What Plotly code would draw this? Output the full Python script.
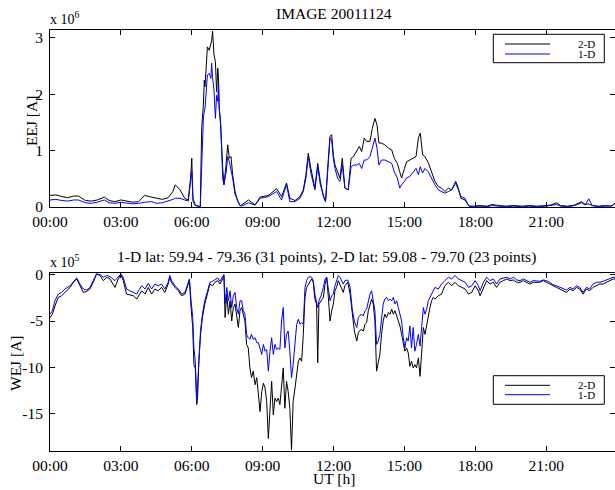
import plotly.graph_objects as go

# ---------------- data ----------------
# Upper panel: eastward electrojet, units of 1e6 A, time in UT hours
t_eej = [0.00, 0.25, 0.50, 0.75, 1.00, 1.20, 1.50, 1.75, 2.00, 2.30, 2.50, 2.75, 3.00, 3.20, 3.50, 3.75,
         4.00, 4.30, 4.50, 4.75, 5.00, 5.20, 5.30, 5.50, 5.70, 5.85, 5.95, 6.00, 6.05, 6.15, 6.36, 6.42,
         6.49, 6.53, 6.56, 6.66, 6.74, 6.81, 6.84, 6.88, 6.94, 7.00, 7.05, 7.10, 7.13, 7.16, 7.22, 7.31,
         7.36, 7.45, 7.52, 7.59, 7.66, 7.73, 7.83, 7.94, 8.04, 8.11, 8.40, 8.68, 8.89, 9.24, 9.59, 9.80,
         10.01, 10.15, 10.37, 10.58, 10.72, 10.83, 10.93, 11.04, 11.14, 11.21, 11.33, 11.44, 11.57, 11.66,
         11.78, 11.85, 11.92, 11.99, 12.06, 12.17, 12.27, 12.37, 12.48, 12.62, 12.74, 12.84, 12.98, 13.09,
         13.19, 13.30, 13.40, 13.54, 13.64, 13.75, 13.84, 13.92, 14.03, 14.17, 14.32, 14.46, 14.57, 14.70,
         14.80, 14.88, 15.00, 15.09, 15.23, 15.38, 15.49, 15.59, 15.67, 15.77, 15.87, 16.01, 16.15, 16.29,
         16.43, 16.57, 16.71, 16.86, 17.00, 17.17, 17.28, 17.39, 17.56, 17.73, 17.91, 18.20, 18.50, 18.70,
         19.00, 19.30, 19.60, 20.00, 20.30, 20.60, 21.00, 21.20, 21.44, 21.60, 21.90, 22.20, 22.50, 22.65,
         22.80, 22.95, 23.20, 23.50, 23.75, 23.90, 24.00]
eej_2d = [0.20, 0.21, 0.18, 0.16, 0.19, 0.19, 0.11, 0.10, 0.12, 0.17, 0.11, 0.09, 0.12, 0.10, 0.08, 0.09,
          0.20, 0.17, 0.15, 0.13, 0.16, 0.27, 0.39, 0.30, 0.15, 0.12, 0.51, 0.86, 0.10, 0.02, 0.00, 1.40,
          1.81, 2.25, 2.13, 2.84, 2.78, 2.90, 2.95, 3.12, 2.70, 2.58, 2.04, 2.46, 2.30, 1.75, 1.45, 0.68,
          0.39, 0.74, 1.10, 0.86, 0.89, 0.57, 0.27, 0.10, 0.02, 0.03, 0.12, 0.03, 0.17, 0.20, 0.32, 0.18,
          0.42, 0.15, 0.11, 0.18, 0.30, 0.57, 0.95, 0.68, 0.45, 0.33, 0.77, 0.45, 0.18, 0.09,
          0.86, 1.25, 1.28, 0.92, 0.74, 0.62, 0.51, 0.86, 0.33, 0.30, 0.86, 0.89, 0.98, 1.07,
          0.98, 1.22, 1.16, 1.16, 1.39, 1.57, 1.45, 1.13, 1.13, 1.10, 1.04, 1.01, 0.86, 0.77,
          0.62, 0.51, 0.68, 0.80, 0.83, 0.86, 0.89, 1.22, 1.31, 0.92, 0.89, 0.78, 0.60, 0.45,
          0.36, 0.33, 0.27, 0.33, 0.30, 0.45, 0.33, 0.15, 0.12, 0.01, 0.01, 0.02, 0.01, 0.04,
          0.02, 0.01, 0.02, 0.01, 0.02, 0.01, 0.02, 0.03, 0.07, 0.02, 0.01, 0.03, 0.09, 0.04,
          0.05, 0.02, 0.01, 0.02, 0.01, 0.06, 0.03]
eej_1d = [0.12, 0.13, 0.11, 0.10, 0.12, 0.12, 0.07, 0.06, 0.08, 0.12, 0.07, 0.06, 0.08, 0.07, 0.05, 0.06,
          0.08, 0.09, 0.06, 0.07, 0.10, 0.13, 0.15, 0.15, 0.12, 0.10, 0.45, 0.63, 0.15, 0.03, 0.00, 0.86,
          1.57, 1.70, 1.75, 2.34, 2.37, 2.28, 2.55, 2.30, 2.07, 1.57, 1.98, 1.87, 2.20, 1.75, 1.51, 0.50,
          0.39, 0.60, 0.89, 0.80, 0.68, 0.51, 0.22, 0.10, 0.02, 0.01, 0.07, 0.03, 0.15, 0.18, 0.27, 0.12,
          0.39, 0.09, 0.09, 0.15, 0.27, 0.51, 0.89, 0.60, 0.39, 0.30, 0.71, 0.39, 0.20, 0.09,
          0.80, 1.22, 1.19, 0.86, 0.68, 0.51, 0.45, 0.74, 0.33, 0.30, 0.71, 0.74, 0.74, 0.77,
          0.68, 0.83, 0.83, 0.89, 1.04, 1.22, 1.04, 0.74, 0.83, 0.83, 0.80, 0.77, 0.62, 0.51,
          0.33, 0.39, 0.45, 0.51, 0.54, 0.62, 0.68, 0.57, 0.71, 0.60, 0.68, 0.62, 0.50, 0.39,
          0.30, 0.27, 0.24, 0.27, 0.30, 0.42, 0.30, 0.18, 0.15, 0.01, 0.00, 0.01, 0.00, 0.02,
          0.01, 0.00, 0.01, 0.00, 0.01, 0.00, 0.01, 0.02, 0.04, 0.01, 0.00, 0.02, 0.07, 0.03,
          0.14, 0.02, 0.00, 0.01, 0.01, 0.05, 0.02]

# Lower panel: westward electrojet, units of 1e5 A, time in UT hours
t_wej = [0.00, 0.10, 0.21, 0.35, 0.49, 0.63, 0.85, 0.99, 1.13, 1.27, 1.41, 1.55, 1.69, 1.83, 1.97, 2.12,
         2.26, 2.40, 2.54, 2.75, 2.89, 3.00, 3.10, 3.24, 3.38, 3.53, 3.67, 3.75, 3.88, 4.02, 4.16, 4.30,
         4.44, 4.58, 4.72, 4.86, 5.00, 5.07, 5.14, 5.29, 5.43, 5.57, 5.71, 5.83, 5.90, 5.97, 6.04, 6.09,
         6.15, 6.21, 6.25, 6.30, 6.37, 6.45, 6.55, 6.66, 6.77, 6.88, 6.98, 7.10, 7.19, 7.31, 7.36, 7.41,
         7.48, 7.55, 7.62, 7.69, 7.76, 7.83, 7.90, 7.97, 8.04, 8.11, 8.18, 8.25, 8.32, 8.39, 8.46, 8.53,
         8.60, 8.68, 8.75, 8.82, 8.89, 8.96, 9.03, 9.10, 9.17, 9.24, 9.31, 9.38, 9.45, 9.52, 9.59, 9.66,
         9.73, 9.80, 9.87, 9.94, 10.01, 10.08, 10.15, 10.22, 10.29, 10.37, 10.44, 10.51, 10.58, 10.65,
         10.72, 10.79, 10.86, 10.93, 11.00, 11.07, 11.14, 11.21, 11.28, 11.33, 11.38, 11.47, 11.57, 11.64,
         11.71, 11.78, 11.85, 11.92, 11.99, 12.06, 12.13, 12.20, 12.27, 12.34, 12.41, 12.48, 12.60, 12.70,
         12.79, 12.88, 12.98, 13.05, 13.16, 13.26, 13.33, 13.40, 13.47, 13.54, 13.61, 13.68, 13.75, 13.82,
         13.89, 13.96, 14.03, 14.10, 14.17, 14.24, 14.32, 14.39, 14.46, 14.53, 14.60, 14.67, 14.74, 14.81,
         14.88, 14.95, 15.02, 15.09, 15.16, 15.23, 15.30, 15.37, 15.44, 15.51, 15.59, 15.66, 15.73, 15.80,
         15.87, 15.94, 16.01, 16.08, 16.15, 16.22, 16.29, 16.43, 16.57, 16.71, 16.86, 17.00, 17.14, 17.28,
         17.43, 17.57, 17.71, 17.85, 17.99, 18.13, 18.20, 18.34, 18.48, 18.62, 18.76, 18.90, 19.04, 19.19,
         19.33, 19.47, 19.61, 19.75, 19.89, 20.03, 20.17, 20.31, 20.45, 20.59, 20.73, 20.87, 21.01, 21.15,
         21.29, 21.43, 21.57, 21.71, 21.86, 22.00, 22.14, 22.28, 22.42, 22.56, 22.70, 22.84, 22.98, 23.12,
         23.27, 23.41, 23.55, 23.69, 23.83, 24.00]
wej_2d = [-4.63, -4.27, -3.37, -2.46, -2.28, -1.92, -1.38, -0.83, -0.47, -1.20, -1.92, -1.81, -1.56, -0.83, 0.07, -0.10,
          -0.65, -0.29, -0.47, -1.38, -0.47, 0.00, -0.65, -2.10, -2.17, -2.28, -2.64, -2.28, -1.74, -2.10, -1.38, -2.10,
          -1.56, -1.74, -1.38, -1.92, -1.02, -0.29, -0.83, -1.38, -1.74, -2.28, -2.10, -1.20, -0.58, -3.55, -5.70, -9.70,
          -10.07, -14.00, -12.95, -9.33, -6.44, -4.63, -3.18, -2.10, -1.02, -1.20, -0.83, -0.65, -1.02, -0.47, -0.10, -4.63,
          -2.10, -4.27, -2.82, -5.00, -3.55, -3.18, -4.81, -5.70, -3.90, -3.55, -4.27, -5.00, -7.52, -7.90, -10.05, -11.10,
          -10.40, -11.86, -11.10, -12.95, -14.75, -12.60, -11.70, -12.20, -13.67, -17.65, -14.40, -11.50, -15.10, -13.30, -13.67, -13.30,
          -14.00, -12.20, -10.05, -14.40, -11.50, -12.60, -14.40, -18.90, -13.67, -12.20, -10.80, -9.33, -8.97, -9.33,
          -6.44, -2.46, -1.38, -1.02, -0.65, -0.47, -0.83, -2.64, -3.18, -9.50, -3.18, -2.82, -2.46, -1.02,
          -0.29, -2.46, -5.00, -3.90, -3.18, -1.74, -1.38, -0.65, -1.02, -1.56, -1.92, -1.20, -0.83, -2.10,
          -4.27, -6.08, -7.16, -6.26, -5.90, -6.08, -5.35, -5.17, -3.90, -3.18, -2.64, -3.18, -5.00, -10.40,
          -9.33, -8.60, -6.44, -5.00, -4.27, -4.63, -4.09, -4.27, -3.73, -4.27, -3.90, -4.45, -5.00, -5.53,
          -6.44, -7.52, -8.25, -7.90, -8.43, -9.87, -9.33, -10.05, -9.70, -10.05, -8.97, -10.96, -7.90, -5.70,
          -6.44, -5.35, -4.27, -3.55, -2.82, -2.46, -2.64, -2.28, -2.10, -1.20, -0.83, -1.20, -0.83, -1.20,
          -1.38, -1.56, -2.10, -1.92, -1.20, -1.74, -2.28, -1.38, -0.65, -1.02, -0.83, -1.38, -0.83, -0.65,
          -0.47, -0.65, -0.58, -0.83, -0.83, -0.65, -0.83, -1.02, -0.83, -0.83, -0.83, -0.65, -0.83, -1.02,
          -1.20, -1.38, -1.56, -1.74, -1.92, -1.56, -1.74, -1.38, -1.56, -2.10, -1.56, -1.74, -1.38, -1.20,
          -1.02, -1.02, -0.83, -0.65, -0.47, -0.50]
wej_1d = [-4.27, -3.90, -2.82, -2.10, -1.92, -1.56, -1.20, -0.83, -0.36, -1.02, -1.56, -1.67, -1.38, -0.65, 0.07, 0.00,
          -0.29, -0.10, -0.22, -0.65, -0.29, 0.07, -0.29, -1.56, -1.74, -1.92, -2.10, -1.70, -1.20, -1.56, -0.94, -1.56,
          -1.02, -1.20, -1.02, -1.56, -0.83, -0.10, -0.65, -1.20, -1.56, -2.10, -1.92, -1.02, -0.47, -2.82, -4.63, -7.90,
          -9.33, -13.80, -12.20, -9.33, -6.08, -4.27, -2.82, -1.74, -0.83, -0.72, -0.58, -0.36, -0.72, -0.29, 0.00, -3.18,
          -1.38, -2.82, -1.74, -3.55, -2.28, -1.92, -3.55, -4.27, -2.82, -2.82, -3.90, -4.27, -6.44, -6.80, -6.98, -6.44,
          -6.98, -6.80, -7.34, -7.34, -7.90, -8.60, -7.52, -8.25, -8.07, -10.40, -8.25, -6.80, -8.60, -7.52, -8.07, -7.90,
          -8.07, -5.00, -3.55, -7.90, -6.44, -6.08, -8.25, -11.10, -9.70, -7.16, -5.35, -4.81, -5.35, -5.17,
          -5.35, -1.38, -0.65, -0.29, -0.22, -0.29, -0.65, -2.10, -2.82, -3.55, -2.82, -2.28, -1.38, -0.47,
          -0.29, -1.92, -2.82, -2.28, -2.10, -1.20, -0.65, -0.10, -0.29, -0.65, -1.02, -0.65, -0.58, -1.38,
          -3.73, -5.00, -5.70, -4.63, -4.27, -4.45, -3.90, -3.73, -2.82, -2.10, -1.74, -2.64, -3.90, -7.52,
          -7.16, -6.44, -4.63, -3.18, -2.64, -2.46, -2.82, -2.64, -2.82, -2.46, -3.18, -2.82, -3.55, -4.27,
          -5.00, -6.80, -7.90, -6.80, -7.16, -5.53, -7.90, -5.70, -8.25, -7.52, -6.44, -7.70, -5.35, -3.55,
          -4.27, -3.73, -2.82, -2.46, -1.92, -1.74, -1.38, -1.56, -1.02, -0.65, -0.29, -0.47, -0.10, -0.47,
          -0.65, -0.83, -1.38, -1.20, -0.65, -1.20, -1.74, -0.83, -0.29, -0.65, -0.47, -1.02, -0.47, -0.36,
          -0.29, -0.47, -0.29, -0.58, -0.65, -0.47, -0.65, -0.83, -0.65, -0.65, -0.72, -0.58, -0.65, -0.83,
          -1.10, -1.20, -1.38, -1.56, -1.67, -1.38, -1.56, -1.20, -1.38, -1.92, -1.38, -1.56, -1.02, -0.83,
          -0.83, -0.72, -0.58, -0.47, -0.29, -0.30]

time_ticks = [0, 3, 6, 9, 12, 15, 18, 21]
time_labels = ["00:00", "03:00", "06:00", "09:00", "12:00", "15:00", "18:00", "21:00"]
eej_ticks = [0, 1, 2, 3]
eej_labels = ["0", "1", "2", "3"]
wej_ticks = [0, -5, -10, -15]
wej_labels = ["0", "-5", "-10", "-15"]
series_names = ["2-D", "1-D"]
series_colors = ["#000000", "#0000ff"]

title_text = "IMAGE 20011124"
subtitle_text = "1-D lat: 59.94 - 79.36 (31 points), 2-D lat: 59.08 - 79.70 (23 points)"

# ---------------- layout geometry ----------------
W, H = 615, 490
L, R, T, B = 50, 0, 30, 39
PW, PH = W - L - R, H - T - B
PX_PER_HOUR = 23.63
FONT = "Liberation Serif"
FS = 15.5


def px(x):
    return (x - L) / PW


def py(y):
    return 1 - (y - T) / PH


fig = go.Figure()
for name, color, y in zip(series_names, series_colors, [eej_2d, eej_1d]):
    fig.add_trace(go.Scatter(x=t_eej, y=y, mode="lines", name=name,
                             line=dict(color=color, width=1), xaxis="x", yaxis="y",
                             showlegend=False))
for name, color, y in zip(series_names, series_colors, [wej_2d, wej_1d]):
    fig.add_trace(go.Scatter(x=t_wej, y=y, mode="lines", name=name,
                             line=dict(color=color, width=1), xaxis="x2", yaxis="y2",
                             showlegend=False))

axis_common = dict(showline=True, linecolor="black", linewidth=1, mirror="ticks",
                   ticks="inside", ticklen=5, tickcolor="black", tickwidth=1,
                   showgrid=False, zeroline=False,
                   tickfont=dict(family=FONT, size=FS, color="black"))

x_range = [0, PW / PX_PER_HOUR]
fig.update_layout(
    width=W, height=H,
    margin=dict(l=L, r=R, t=T, b=B),
    paper_bgcolor="white", plot_bgcolor="white",
    font=dict(family=FONT, size=FS, color="black"),
    hovermode=False,
    xaxis=dict(domain=[0, 1], anchor="y", range=x_range, tickvals=time_ticks,
               ticktext=time_labels, **axis_common),
    yaxis=dict(domain=[py(207), 1], anchor="x", range=[-0.005, 3.14], tickvals=eej_ticks,
               ticktext=eej_labels, ticklabelstandoff=3, **axis_common),
    xaxis2=dict(domain=[0, 1], anchor="y2", range=x_range, tickvals=time_ticks,
                ticktext=time_labels, **axis_common),
    yaxis2=dict(domain=[0, py(273)], anchor="x2", range=[-19.0, 0.17], tickvals=wej_ticks,
                ticktext=wej_labels, ticklabelstandoff=3, **axis_common),
)

annotations = [
    dict(text=title_text, x=12, xref="x", y=py(13), yref="paper", xanchor="center",
         yanchor="middle", showarrow=False, font=dict(size=FS)),
    dict(text=subtitle_text, x=px(326.7), xref="paper", y=py(256.5), yref="paper",
         xanchor="center", yanchor="middle", showarrow=False, font=dict(size=FS)),
    dict(text="x 10<sup>6</sup>", x=px(48), xref="paper", y=py(29), yref="paper",
         xanchor="left", yanchor="bottom", showarrow=False, font=dict(size=14)),
    dict(text="x 10<sup>5</sup>", x=px(48), xref="paper", y=py(272), yref="paper",
         xanchor="left", yanchor="bottom", showarrow=False, font=dict(size=14)),
    dict(text="EEJ [A]", x=px(31), xref="paper", y=py(121), yref="paper", textangle=-90,
         xanchor="center", yanchor="middle", showarrow=False, font=dict(size=FS)),
    dict(text="WEJ [A]", x=px(15), xref="paper", y=py(363), yref="paper", textangle=-90,
         xanchor="center", yanchor="middle", showarrow=False, font=dict(size=FS)),
    dict(text="UT [h]", x=12, xref="x2", y=py(478), yref="paper",
         xanchor="center", yanchor="middle", showarrow=False, font=dict(size=FS)),
]

shapes = []
# custom legend boxes (MATLAB style: line sample left, label right-aligned)
for box_top, box_bot, rows in [(34.3, 62.7, (44.0, 54.0)), (375.7, 404.3, (385.3, 394.7))]:
    shapes.append(dict(type="rect", xref="paper", yref="paper", x0=px(493.3), x1=px(604.3),
                       y0=py(box_bot), y1=py(box_top), line=dict(color="black", width=1),
                       fillcolor="white", layer="above"))
    for name, color, ry in zip(series_names, series_colors, rows):
        shapes.append(dict(type="line", xref="paper", yref="paper", x0=px(505), x1=px(550),
                           y0=py(ry), y1=py(ry), line=dict(color=color, width=1), layer="above"))
        annotations.append(dict(text=name, x=px(596), xref="paper", y=py(ry), yref="paper",
                                xanchor="right", yanchor="middle", showarrow=False,
                                borderpad=0, font=dict(size=11)))

fig.update_layout(annotations=annotations, shapes=shapes)
fig.write_html(
    "out.html",
    config={"displayModeBar": False, "staticPlot": True},
    post_script="document.body.style.margin='0';document.body.style.overflow='hidden';",
)
